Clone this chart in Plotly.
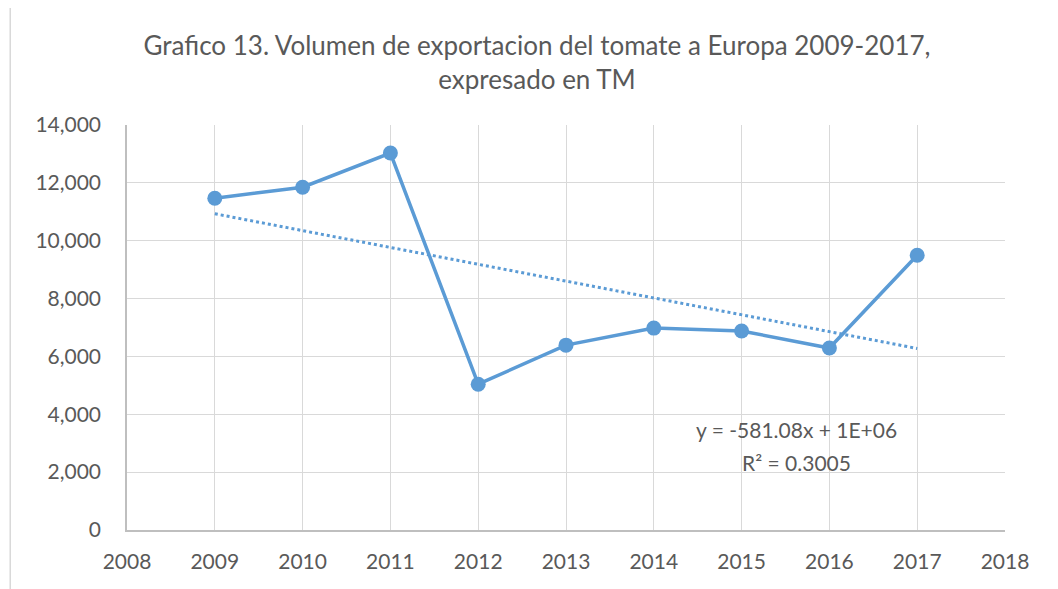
import numpy as np
import plotly.graph_objects as go

years = [2009, 2010, 2011, 2012, 2013, 2014, 2015, 2016, 2017]
volumen = [11470, 11850, 13030, 5040, 6390, 6980, 6880, 6290, 9500]
title_text = "Grafico 13. Volumen de exportacion del tomate a Europa 2009-2017,<br>expresado en TM"
eq_line1 = "y = -581.08x + 1E+06"
eq_line2 = "R² = 0.3005"

blue = "#5B9BD5"
grey_txt = "#595959"
font_fam = "Lato, Open Sans, sans-serif"

coef = np.polyfit(years, volumen, 1)
trend = np.polyval(coef, years)

fig = go.Figure()
fig.add_trace(go.Scatter(x=years, y=trend, mode="lines",
                         line=dict(color=blue, width=3, dash="dot"),
                         hoverinfo="skip", showlegend=False))
fig.add_trace(go.Scatter(x=years, y=volumen, mode="lines+markers",
                         line=dict(color=blue, width=3.5),
                         marker=dict(color=blue, size=15),
                         showlegend=False))

ann_font = dict(family=font_fam, size=21, color=grey_txt)

fig.update_layout(
    width=1058, height=589,
    margin=dict(l=119, r=61, t=117, b=67),
    paper_bgcolor="white", plot_bgcolor="white",
    font=dict(family=font_fam, color=grey_txt, size=20),
    title=dict(text=title_text, x=0.5, xanchor="center", y=0.92, yanchor="middle",
               font=dict(family=font_fam, size=26, color=grey_txt)),
    xaxis=dict(range=[2008, 2018], dtick=1, tick0=2008, showgrid=True,
               gridcolor="#D9D9D9", gridwidth=1.3, showline=True,
               linecolor="#BFBFBF", linewidth=1.5, zeroline=False,
               ticks="", ticklabelstandoff=12,
               tickfont=dict(size=21, color=grey_txt)),
    yaxis=dict(range=[0, 14000], dtick=2000, showgrid=True,
               gridcolor="#D9D9D9", gridwidth=1.3, showline=True,
               linecolor="#BFBFBF", linewidth=1.5, zeroline=False,
               tickformat=",d", ticks="", ticklabelstandoff=20,
               tickfont=dict(size=21, color=grey_txt)),
    annotations=[
        dict(text=eq_line1, x=2015.63, y=3460, xref="x", yref="y",
             showarrow=False, align="center", font=ann_font),
        dict(text=eq_line2, x=2015.63, y=2350, xref="x", yref="y",
             showarrow=False, align="center", font=ann_font),
    ],
    shapes=[dict(type="rect", xref="paper", yref="paper",
                 x0=-0.133, x1=1.2, y0=-0.3, y1=1.291,
                 line=dict(color="#D9D9D9", width=1.5), fillcolor="rgba(0,0,0,0)",
                 layer="below")],
)

fig.write_html("out.html")
